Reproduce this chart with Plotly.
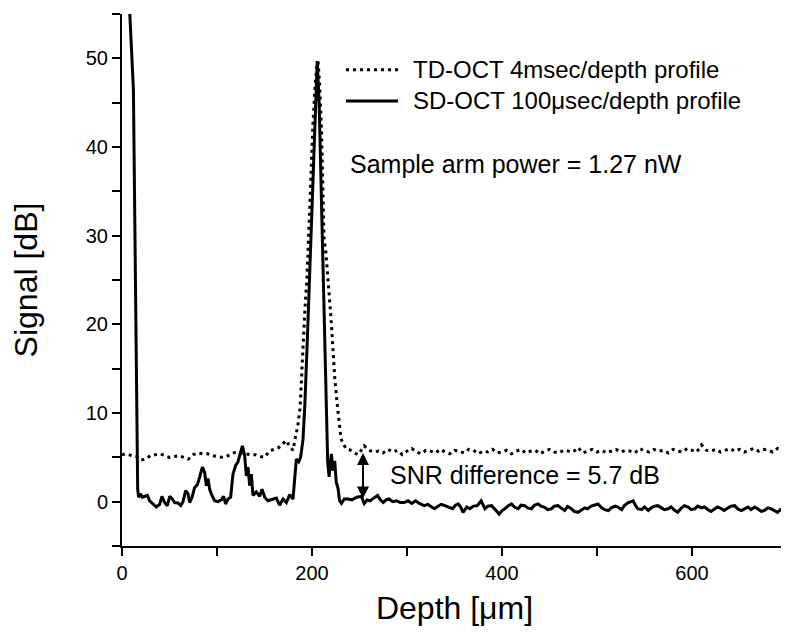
import plotly.graph_objects as go

# ---------------- data ----------------
# TD-OCT 4 msec/depth profile (dotted)
td_depth = [0, 5, 10, 15, 20, 25, 30, 35, 40, 45, 50, 55, 60, 65, 70, 75, 80, 85, 90, 95,
            100, 105, 110, 115, 120, 125, 130, 135, 140, 145, 150, 155, 160, 165, 170, 173,
            176, 180, 183, 185, 187.4, 190.5, 192.6, 194.7, 197, 199, 201, 203, 205, 206.5,
            208, 210, 212.6, 214.7, 218, 220, 222, 224, 227, 230.5, 233, 235.8, 239, 243,
            248, 250, 255, 260, 265, 270, 275, 280, 285, 290, 295, 300, 305, 310, 315, 320,
            325, 330, 335, 340, 345, 350, 355, 360, 365, 370, 375, 380, 385, 390, 395, 400,
            405, 410, 415, 420, 425, 430, 435, 440, 445, 450, 455, 460, 465, 470, 475, 480,
            485, 490, 495, 500, 505, 510, 515, 520, 525, 530, 535, 540, 545, 550, 555, 560,
            565, 570, 575, 580, 585, 590, 595, 600, 605, 610, 615, 620, 625, 630, 635, 640,
            645, 650, 655, 660, 665, 670, 675, 680, 685, 690, 695, 700]
td_signal = [5.3, 5.4, 5.2, 5.1, 4.7, 4.8, 5.2, 5.3, 5.4, 5.2, 5.0, 5.1, 5.2, 5.0, 4.8, 5.3,
             5.5, 5.4, 5.4, 5.2, 5.1, 5.0, 5.1, 5.4, 5.6, 5.5, 5.4, 5.3, 5.3, 5.1, 5.0, 5.7,
             5.9, 6.1, 6.6, 6.9, 6.3, 5.8, 7.5, 8.5, 10.5, 18.4, 21.8, 25.2, 32.0, 37.5, 42.5,
             46.5, 49.0, 49.6, 47.0, 42.0, 29.8, 28.0, 24.0, 20.7, 17.3, 13.9, 10.5, 7.1, 6.5,
             6.0, 5.9, 5.6, 5.3, 5.5, 6.3, 5.8, 5.6, 5.7, 5.5, 5.9, 5.6, 5.8, 5.3, 5.7, 6.0,
             5.6, 5.4, 5.8, 5.7, 5.5, 5.9, 5.6, 5.4, 5.8, 5.7, 5.5, 5.9, 5.8, 5.4, 5.7, 5.6,
             5.9, 5.5, 5.6, 5.8, 5.4, 5.7, 5.9, 5.5, 5.7, 5.8, 5.4, 5.7, 5.9, 5.6, 5.5, 5.8,
             5.7, 5.6, 6.1, 5.5, 5.7, 5.9, 5.6, 5.8, 5.5, 5.7, 5.9, 5.6, 5.8, 5.7, 5.5, 6.0,
             5.7, 5.6, 5.9, 5.7, 5.8, 5.5, 5.9, 5.7, 5.6, 6.0, 5.8, 5.6, 6.4, 5.8, 5.7, 5.9,
             5.6, 5.8, 6.0, 5.7, 5.9, 5.6, 5.8, 6.0, 5.7, 5.9, 5.8, 5.6, 6.0, 5.8, 5.9]

# SD-OCT 100 usec/depth profile (solid)
sd_depth = [6, 8, 12, 15.5, 16.5, 17.5, 19.3, 21.4, 23.9, 26.7, 29.1, 32.6, 36.1, 39.6, 42.1,
            44.9, 47.7, 50.2, 53, 55.4, 58.9, 61.8, 64.2, 67, 69.5, 71.2, 73.7, 76.5, 79.3,
            81.8, 84.6, 87, 88.8, 90.5, 92.3, 94.7, 97.5, 101, 104.6, 107, 109, 111.6, 114.4,
            116.8, 119.6, 122.1, 124.9, 126.7, 129.1, 130.9, 132.6, 134.4, 136.1, 137.9, 141.4,
            144.9, 147.4, 150.2, 153.7, 158.9, 162.5, 165.9, 169.5, 173, 176.5, 180, 183.5,
            186, 188, 190.5, 192.5, 195, 198, 201, 203.5, 205.5, 207.5, 209.5, 211.5, 213.5,
            215, 216.5, 218, 220.4, 222, 223.9, 225.5, 227.4, 229, 231, 234, 238, 242, 247,
            252, 255, 258, 261, 265, 269, 272, 275, 278, 281, 285, 289, 293, 297, 301, 305,
            309, 313, 318, 322, 326, 329, 333, 336, 340, 344, 348, 351, 354, 357, 359, 363,
            366, 370, 374, 378, 382, 385, 389, 393, 397, 400, 403, 406, 410, 413, 417, 420,
            424, 427, 431, 434, 438, 441, 445, 448, 452, 455, 459, 462, 466, 469, 473, 476,
            480, 484, 487, 490, 494, 497, 501, 505, 508, 512, 515, 519, 522, 526, 529, 533,
            538, 541, 543, 547, 550, 554, 557, 561, 564, 568, 571, 575, 578, 582, 585, 589,
            592, 596, 599, 603, 606, 610, 613, 617, 620, 624, 627, 631, 634, 638, 641, 645,
            648, 652, 655, 659, 662, 666, 669, 673, 676, 680, 683, 687, 690, 693, 696, 698, 700]
sd_signal = [62, 55.5, 46.5, 6.0, 1.4, 0.5, 0.9, 0.5, 0.6, 0.7, 0.1, -0.3, -0.6, -0.3, 0.6,
             -0.1, -0.45, 0.6, 0.3, -0.1, -0.15, -0.45, 0.0, 1.25, 0.9, -0.1, 0.5, 1.6, 1.9,
             2.8, 3.9, 3.3, 1.8, 2.6, 1.4, 0.7, 0.1, 0.0, 0.2, 0.6, -0.26, 0.3, 0.5,
             3.1, 4.1, 4.5, 5.8, 6.3, 5.2, 2.9, 3.9, 1.8, 3.1, 0.7, 1.1,
             0.6, 1.4, 0.5, 0.1, 0.3, 0.4, -0.4, 0.3, -0.1, 0.8, 0.3, 4.8,
             4.5, 5.0, 7.0, 11.0, 18.0, 27.0, 36.0, 44.0, 49.7, 45.0, 36.5, 27.5, 18.5,
             12.0, 4.5, 2.8, 5.4, 3.5, 4.6, 2.2, 1.5, 0.1, -0.2, 0.3, 0.3, 0.2, 0.5,
             0.6, -0.2, 0.2, 0.1, 0.4, 0.7, 0.2, -0.1, 0.2, 0.3, 0.0, 0.1, -0.1, -0.1, 0.1, -0.2,
             0.1, -0.2, -0.45, -0.3, -0.6, -0.8, -0.5, -0.3, -0.45, -0.6, -0.8, -0.4, -0.25, -0.7, -1.2, -0.6,
             -0.8, -0.5, -0.45, 0.1, -0.8, -0.5, -0.45, -0.9, -1.4, -1.0, -0.8, -0.5, -0.25, -0.6, -0.8, -0.4,
             -0.45, -0.7, -0.8, -0.4, -0.25, -0.5, -0.65, -0.9, -0.8, -0.5, -0.45, -0.7, -1.0, -0.55, -0.8, -1.1,
             -1.2, -0.9, -0.7, -0.8, -0.5, -0.4, -0.26, -0.7, -0.9, -1.0, -0.7, -0.5, -0.6, -0.9, -0.4, -0.1,
             0.1, -0.5, -0.8, -0.9, -0.6, -1.0, -0.7, -0.5, -0.45, -0.7, -0.9, -0.8, -0.6, -1.0, -1.2, -0.7,
             -0.45, -0.6, -0.9, -0.8, -0.5, -0.7, -0.6, -0.9, -1.1, -0.8, -0.6, -0.8, -1.0, -0.7, -0.5, -0.45,
             -0.8, -1.0, -0.8, -0.6, -0.9, -0.6, -0.8, -1.1, -1.0, -0.7, -0.8, -1.0, -1.2, -0.9, -1.0, -1.5, -1.9]

td_name = "TD-OCT 4msec/depth profile"
sd_name = "SD-OCT 100\u03bcsec/depth profile"
x_title = "Depth [\u03bcm]"
y_title = "Signal [dB]"
power_text = "Sample arm power = 1.27 nW"
snr_text = "SNR difference = 5.7 dB"
snr_depth = 253.7
snr_low, snr_high = 0.2, 5.5

FONT = "Liberation Sans, Arial, Helvetica, sans-serif"
TD_LINE = dict(color="black", width=3, dash="3px,4px")
SD_LINE = dict(color="black", width=3)

fig = go.Figure()
fig.add_trace(go.Scatter(x=td_depth, y=td_signal, mode="lines", name=td_name,
                         line=TD_LINE, showlegend=False))
fig.add_trace(go.Scatter(x=sd_depth, y=sd_signal, mode="lines", name=sd_name,
                         line=SD_LINE, showlegend=False))

# legend drawn as in the original figure (sample line + label)
leg_x0, leg_x1, leg_text_x = 235.8, 290.5, 304.2
for yy, name, ln in [(48.7, td_name, TD_LINE), (45.2, sd_name, SD_LINE)]:
    fig.add_shape(type="line", xref="x", yref="y", x0=leg_x0, x1=leg_x1, y0=yy, y1=yy,
                  line=ln)
    fig.add_annotation(x=leg_text_x, y=yy, xref="x", yref="y", text=name, showarrow=False,
                       xanchor="left", yanchor="middle",
                       font=dict(family=FONT, size=24, color="black"))

fig.add_annotation(x=238, y=38.06, xref="x", yref="y", text=power_text, showarrow=False,
                   xanchor="left", yanchor="middle", font=dict(family=FONT, size=25, color="black"))
fig.add_annotation(x=280, y=3.06, xref="x", yref="y", text=snr_text, showarrow=False,
                   xanchor="left", yanchor="middle", font=dict(family=FONT, size=25, color="black"))
fig.add_annotation(x=snr_depth, y=snr_high, ax=snr_depth, ay=snr_low, xref="x", yref="y",
                   axref="x", ayref="y", text="", showarrow=True, arrowside="end+start",
                   arrowhead=2, arrowsize=1.2, arrowwidth=2, arrowcolor="black")

axis_common = dict(showline=True, linewidth=2, linecolor="black", ticks="outside",
                   ticklen=8, tickwidth=2, tickcolor="black", showgrid=False, zeroline=False,
                   mirror=False, tickfont=dict(family=FONT, size=20, color="black"))

fig.update_layout(
    width=789, height=637,
    margin=dict(l=114, r=10, t=6, b=99),
    paper_bgcolor="white", plot_bgcolor="white",
    font=dict(family=FONT, color="black"),
    showlegend=False,
    xaxis=dict(range=[0, 700], tick0=0, dtick=200,
               minor=dict(dtick=100, ticks="outside", ticklen=8, tickwidth=2, tickcolor="black"),
               title=dict(text=x_title, font=dict(family=FONT, size=32, color="black"), standoff=14),
               **axis_common),
    yaxis=dict(range=[-5, 55], tick0=0, dtick=10,
               minor=dict(dtick=5, ticks="outside", ticklen=8, tickwidth=2, tickcolor="black"),
               title=dict(text=y_title, font=dict(family=FONT, size=32, color="black"), standoff=40),
               **axis_common),
)

fig.write_html("out.html")
